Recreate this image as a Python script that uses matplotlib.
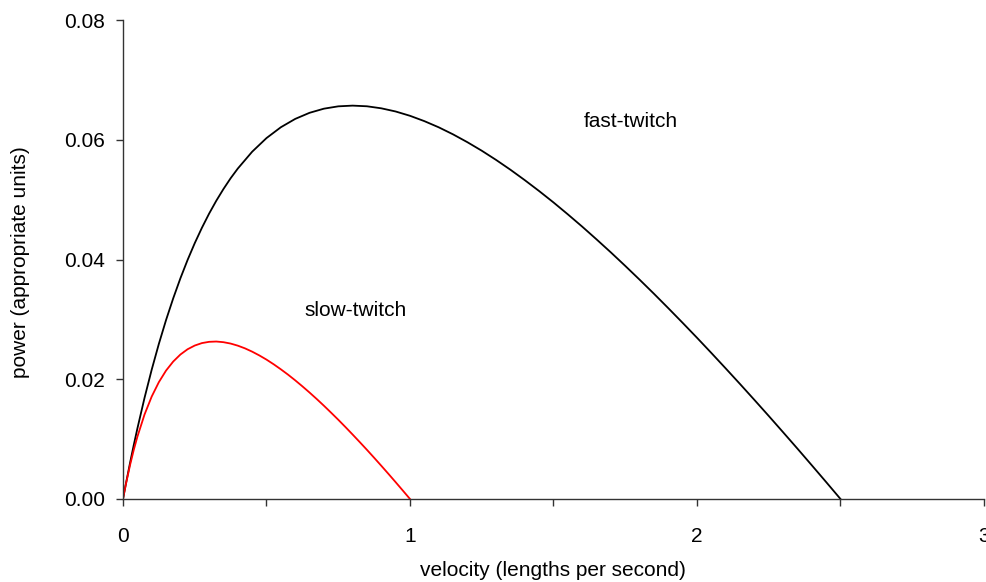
import matplotlib
matplotlib.use("Agg")
import matplotlib.pyplot as plt

plt.rcParams['font.family'] = ['Liberation Sans', 'DejaVu Sans']

# velocity (lengths per second) and power (appropriate units)
fast_v = [0, 0.005, 0.01, 0.025, 0.0375, 0.05, 0.075, 0.1, 0.125, 0.15, 0.175, 0.2, 0.225, 0.25,
          0.275, 0.3, 0.325, 0.35, 0.375, 0.4, 0.45, 0.5, 0.55, 0.6, 0.65, 0.7, 0.75, 0.8, 0.85,
          0.9, 0.95, 1.0, 1.05, 1.1, 1.15, 1.2, 1.25, 1.3, 1.35, 1.4, 1.45, 1.5, 1.55, 1.6, 1.65,
          1.7, 1.75, 1.8, 1.85, 1.9, 1.95, 2.0, 2.05, 2.1, 2.15, 2.2, 2.25, 2.3, 2.35, 2.4, 2.45,
          2.5]
fast_p = [0, 0.00127, 0.00252, 0.00614, 0.00901, 0.01175, 0.01689, 0.02160, 0.02592, 0.02989,
          0.03352, 0.03686, 0.03992, 0.04273, 0.04530, 0.04766, 0.04981, 0.05177, 0.05357,
          0.05519, 0.05800, 0.06028, 0.06209, 0.06348, 0.06450, 0.06519, 0.06558, 0.06570,
          0.06559, 0.06525, 0.06472, 0.06400, 0.06311, 0.06208, 0.06090, 0.05959, 0.05817,
          0.05663, 0.05499, 0.05325, 0.05143, 0.04953, 0.04754, 0.04549, 0.04336, 0.04118,
          0.03893, 0.03663, 0.03428, 0.03187, 0.02942, 0.02693, 0.02439, 0.02181, 0.01920,
          0.01655, 0.01387, 0.01115, 0.00841, 0.00563, 0.00283, 0]

slow_v = [0, 0.005, 0.01, 0.025, 0.0375, 0.05, 0.075, 0.1, 0.125, 0.15, 0.175, 0.2, 0.225, 0.25,
          0.275, 0.3, 0.325, 0.35, 0.375, 0.4, 0.425, 0.45, 0.475, 0.5, 0.525, 0.55, 0.575, 0.6,
          0.625, 0.65, 0.675, 0.7, 0.725, 0.75, 0.775, 0.8, 0.825, 0.85, 0.875, 0.9, 0.925, 0.95,
          0.975, 1.0]
slow_p = [0, 0.00126, 0.00246, 0.00576, 0.00820, 0.01038, 0.01411, 0.01711, 0.01952, 0.02145,
          0.02296, 0.02413, 0.02501, 0.02563, 0.02604, 0.02625, 0.02630, 0.02619, 0.02596,
          0.02561, 0.02516, 0.02461, 0.02398, 0.02328, 0.02250, 0.02166, 0.02077, 0.01982,
          0.01882, 0.01778, 0.01670, 0.01558, 0.01442, 0.01324, 0.01202, 0.01077, 0.00950,
          0.00821, 0.00689, 0.00555, 0.00419, 0.00281, 0.00141, 0]

x_ticks = [0, 0.5, 1, 1.5, 2, 2.5, 3]
x_labels = ["0", "", "1", "", "2", "", "3"]
y_ticks = [0, 0.02, 0.04, 0.06, 0.08]
y_labels = ["0.00", "0.02", "0.04", "0.06", "0.08"]

fig = plt.figure(figsize=(9.87, 5.82), dpi=100)
ax = fig.add_axes([123/987, 1 - 499/582, (984 - 123)/987, (499 - 20)/582])
ax.plot(fast_v, fast_p, color='black', lw=1.3, solid_joinstyle='round')
ax.plot(slow_v, slow_p, color='#ff0000', lw=1.3, solid_joinstyle='round')

ax.set_xlim(0, 3)
ax.set_ylim(0, 0.08)
ax.set_xticks(x_ticks)
ax.set_xticklabels(x_labels)
ax.set_yticks(y_ticks)
ax.set_yticklabels(y_labels)

for s in ['top', 'right']:
    ax.spines[s].set_visible(False)
for s in ['left', 'bottom']:
    ax.spines[s].set_color('#333333')
    ax.spines[s].set_linewidth(1.0)
ax.tick_params(axis='both', direction='out', length=5, width=1.0, color='#333333',
               labelsize=15, labelcolor='black')
ax.tick_params(axis='x', pad=15)
ax.tick_params(axis='y', pad=8)

ax.text(1.77, 0.0630, "fast-twitch", fontsize=15, ha='center', va='center')
ax.text(0.81, 0.0315, "slow-twitch", fontsize=15, ha='center', va='center')

fig.text(553/987, 1 - 571/582, "velocity (lengths per second)", fontsize=15, ha='center', va='center')
fig.text(21/987, 1 - 262/582, "power (appropriate units)", fontsize=15, ha='center', va='center',
         rotation=90)

fig.savefig("out.png", dpi=100)
